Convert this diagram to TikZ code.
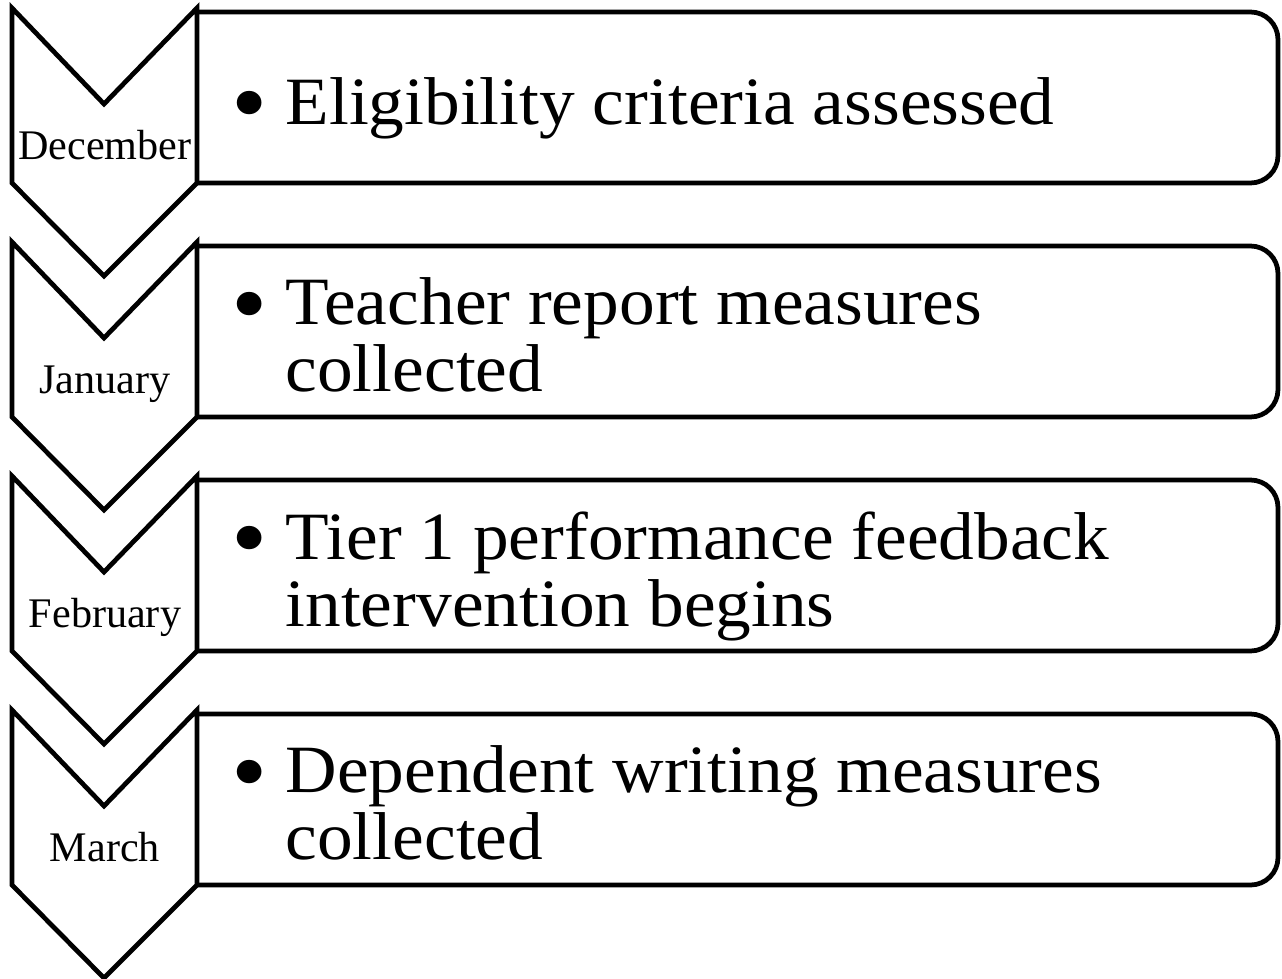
\documentclass[tikz,border=0pt]{standalone}
\usepackage{fontspec}
\setmainfont{Liberation Serif}
\newfontfamily\itemfont{Liberation Serif}[FakeStretch=1.055]

\tikzset{
    month/.style={font=\fontsize{24}{28}\selectfont, anchor=base, inner sep=0pt},
    item/.style={font=\itemfont\fontsize{38.5}{38}\selectfont, anchor=west, inner sep=0pt},
}
\newcommand{\bigbullet}{\raisebox{-0.17em}{\scalebox{1.45}{\textbullet}}}

\begin{document}
\begin{tikzpicture}[x=0.02cm, y=-0.02cm, line width=0.095cm]

    \useasboundingbox (0,0) rectangle (1282,978);

    \pgfmathsetmacro\gap{234}
    \newcommand{\milestone}[3]{
        \pgfmathsetmacro\t{8+#1*\gap}
        \draw[fill=white] (12,\t) -- (104,\t+96) -- (197,\t) -- (197,\t+175)
            -- (104,\t+268) -- (12,\t+175) -- cycle;
        \draw[rounded corners=0.55cm] (197,\t+4) -- (1278,\t+4) -- (1278,\t+175) -- (197,\t+175);
        \node[month] (m#1) at (105,\t+151) {#2};
        \node[item] (i#1) at (229,\t+103) {%
            \begin{tabular}{@{}c@{\hspace{0.36cm}}l@{}}\bigbullet & #3\end{tabular}};
    }

    \milestone{0}{December}{Eligibility criteria assessed}
    \milestone{1}{January}{Teacher report measures\\ & collected}
    \milestone{2}{February}{Tier 1 performance feedback\\ & intervention begins}
    \milestone{3}{March}{Dependent writing measures\\ & collected}

\end{tikzpicture}
\end{document}
